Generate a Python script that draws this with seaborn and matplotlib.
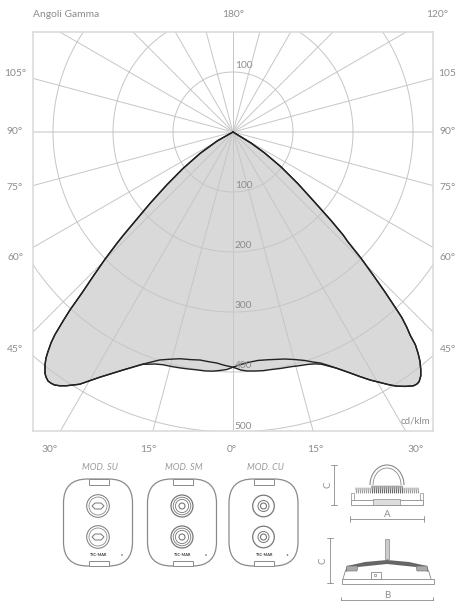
import numpy as np
import pandas as pd
import matplotlib
matplotlib.use('Agg')
import matplotlib.pyplot as plt
import seaborn as sns
from matplotlib.patches import FancyBboxPatch, Circle, Rectangle, Arc, Polygon

# gamma angle (degrees, negative = left of nadir) and intensity (cd/klm)
left_gamma = [-62, -60.5, -57.0, -53.9, -51.4, -49.3, -47.8, -46.7, -46.2, -45.2, -44.1, -43.2, -42.5, -42.0, -41.3,
              -40.8, -40.1, -39.6, -38.9, -37.9, -37.3, -36.6, -35.9, -35.2, -34.3, -33.3, -31.3, -28.5, -24.8, -21.2]
left_cd = [0, 30, 65, 103, 141, 182, 217, 252, 268, 300, 335, 367, 402, 422, 450,
           464, 479, 489, 499, 510, 514, 517, 517, 516, 512, 506, 492, 465, 437, 415]

right_gamma = [23.7, 25.6, 27.4, 28.9, 30.4, 31.8, 32.8, 34.1, 35.4, 36.1, 36.7, 37.6, 38.3, 39.2, 39.9, 40.6,
               41.1, 41.7, 42.3, 42.7, 43.5, 44.4, 45.4, 46.3, 46.9, 47.9, 49.4, 51.5, 54.0, 56.5, 58.5, 62]
right_cd = [430, 444, 459, 472, 484, 496, 504, 512, 519, 520, 519, 513, 505, 493, 481, 467,
            449, 435, 418, 401, 369, 334, 300, 265, 252, 221, 178, 138, 99, 63, 35, 0]

# the two planes split apart around the nadir
plane_a_gamma = [-20.4, -18.6, -16.7, -14.6, -12.7, -10.8, -8.7, -6.7, -4.8, -3.1, -1.5, 0,
                 1.7, 3.7, 6.2, 8.7, 11.0, 12.8, 15.2, 17.4, 19.2, 20.8, 22.5]
plane_a_cd = [413, 408, 405, 404, 403, 402, 401, 401, 400, 398, 396, 392,
              388, 385, 383, 384, 386, 388, 393, 399, 406, 412, 422]

plane_b_gamma = [-19.8, -17.8, -15.5, -13.1, -10.7, -8.2, -6.0, -4.0, -2.2, 0,
                 1.9, 3.4, 5.2, 7.2, 9.1, 11.5, 13.9, 16.0, 17.9, 19.5, 20.8]
plane_b_cd = [408, 399, 393, 388, 386, 384, 385, 386, 389, 392,
              397, 399, 400, 401, 401, 402, 403, 405, 407, 410, 414]

spoke_angles = list(range(0, 360, 15))
ring_values = [100, 200, 300, 400, 500]
lower_ring_labels = ['100', '200', '300', '400', '500']
left_labels = ['105°', '90°', '75°', '60°', '45°']
right_labels = ['105', '90°', '75°', '60°', '45°']
bottom_labels = ['30°', '15°', '0°', '15°', '30°']
module_names = ['MOD. SU', 'MOD. SM', 'MOD. CU']

GREY = '#8c8c8c'
GRID = '#c6c6c6'
FRAME = '#d9d9d9'
FILL = '#d9d9d9'
LINE = '#222222'
ICON = '#8a8a8a'

sns.set_theme(style='white')
plt.rcParams['font.family'] = ['Lato', 'DejaVu Sans']

W, H = 457, 601
fig = plt.figure(figsize=(W / 100, H / 100), dpi=100, facecolor='white')

# main diagram, 0.6 px per cd/klm with the pole at pixel (233, 132)
x0, x1, y0, y1 = 33, 433, 32, 431
ax = fig.add_axes([x0 / W, 1 - y1 / H, (x1 - x0) / W, (y1 - y0) / H])
ax.set_xlim((x0 - 233) / 0.6, (x1 - 233) / 0.6)
ax.set_ylim((132 - y1) / 0.6, (132 - y0) / 0.6)
ax.set_xticks([])
ax.set_yticks([])
for s in ax.spines.values():
    s.set_color(FRAME)
    s.set_linewidth(1.1)


def to_xy(gamma, cd):
    g = np.radians(gamma)
    return np.array(cd) * np.sin(g), -np.array(cd) * np.cos(g)


curve_a_g = left_gamma + plane_a_gamma + right_gamma
curve_a_c = left_cd + plane_a_cd + right_cd
curve_b_g = left_gamma + plane_b_gamma + right_gamma
curve_b_c = left_cd + plane_b_cd + right_cd

rows = []
for name, g, c in [('a', curve_a_g, curve_a_c), ('b', curve_b_g, curve_b_c)]:
    xs, ys = to_xy(g, c)
    rows.append(pd.DataFrame({'x': xs, 'y': ys, 'plane': name}))
    ax.fill(xs, ys, color=FILL, lw=0, zorder=1)
df = pd.concat(rows)

# grid on top of the fill
for a in spoke_angles:
    xs, ys = to_xy([a, a], [0, 900])
    lw = 1.1 if a in (90, 270) else 0.7
    c = FRAME if a in (90, 270) else GRID
    ax.plot(xs, ys, color=c, lw=lw, zorder=2)
t = np.linspace(0, 2 * np.pi, 400)
for r in ring_values:
    ax.plot(r * np.cos(t), r * np.sin(t), color=GRID, lw=0.7, zorder=2)

sns.lineplot(data=df, x='x', y='y', hue='plane', palette=[LINE, LINE], sort=False, estimator=None,
             legend=False, lw=1.0, zorder=3, ax=ax)
ax.set_xlabel('')
ax.set_ylabel('')

# radial labels
ax.text(3, 110, '100', color=GREY, fontsize=7.3, va='center', ha='left', zorder=4)
for r, lab in zip(ring_values, lower_ring_labels):
    ax.text(3, -r + 10, lab, color=GREY, fontsize=7.3, va='center', ha='left', zorder=4)
ax.text(328, -481, 'cd/klm', color=GREY, fontsize=7, va='center', ha='right', zorder=4)

# overlay in pixel coordinates for the outer labels and the drawings
ov = fig.add_axes([0, 0, 1, 1], facecolor='none')
ov.set_xlim(0, W)
ov.set_ylim(H, 0)
ov.axis('off')

ov.text(33, 14.5, 'Angoli Gamma', color=GREY, fontsize=7.4, va='center', ha='left')
ov.text(233.5, 14.5, '180°', color=GREY, fontsize=7.4, va='center', ha='center')
ov.text(437, 14.5, '120°', color=GREY, fontsize=7.4, va='center', ha='center')

side_y = [74, 132, 188, 257, 349]
for lab, y in zip(left_labels, side_y):
    ov.text(15, y, lab, color=GREY, fontsize=7.4, va='center', ha='center')
for lab, y in zip(right_labels, side_y):
    ov.text(456, y, lab, color=GREY, fontsize=7.4, va='center', ha='right')

bottom_x = [50, 148, 232, 315, 416]
for lab, x in zip(bottom_labels, bottom_x):
    ov.text(x, 449, lab, color=GREY, fontsize=7.4, va='center', ha='center')


def module(cx, name, rings, inner):
    ov.text(cx + 2, 468, name, color='#9a9a9a', fontsize=6.5, style='italic', va='center', ha='center')
    body = FancyBboxPatch((cx - 34.5 + 16, 479 + 16), 69 - 32, 87 - 32,
                          boxstyle='round,pad=16,rounding_size=24', fc='white', ec=ICON, lw=0.9)
    ov.add_patch(body)
    for ty in (479, 560.5):
        ov.add_patch(Rectangle((cx - 9.5, ty), 20, 5.5, fc='white', ec=ICON, lw=0.7))
    for cy in (506, 537):
        for rad, lw in rings:
            ov.add_patch(Circle((cx, cy), rad, fc='none', ec='#777777', lw=lw))
        inner(cx, cy)
    ov.text(cx + 1, 555, 'TEC-MAR', color='#333333', fontsize=2.8, weight='bold', va='center', ha='center')
    ov.add_patch(Circle((cx + 24, 555), 0.8, fc='#666666', ec='none'))


def hex_inner(cx, cy):
    ov.add_patch(Polygon([(cx - 6, cy), (cx - 3, cy - 3), (cx + 3, cy - 3), (cx + 6, cy), (cx + 3, cy + 3),
                          (cx - 3, cy + 3)], fc='none', ec='#777777', lw=0.7))


def ring_inner(cx, cy):
    ov.add_patch(Circle((cx, cy), 3, fc='none', ec='#777777', lw=0.8))


module(98, module_names[0], [(11.3, 0.7), (9, 0.5)], hex_inner)
module(182, module_names[1], [(11, 0.9), (8.8, 0.6), (6.6, 0.6)], ring_inner)
module(263.5, module_names[2], [(10.8, 0.9), (5.5, 0.7)], ring_inner)


def dim_v(x, ya, yb, label, lx):
    ov.plot([x, x], [ya, yb], color=ICON, lw=0.6)
    ov.plot([x - 3, x + 3], [ya, ya], color=ICON, lw=0.6)
    ov.plot([x - 3, x + 3], [yb, yb], color=ICON, lw=0.6)
    ov.text(lx, (ya + yb) / 2, label, color=GREY, fontsize=7, rotation=90, va='center', ha='center')


def dim_h(y, xa, xb, label):
    ov.plot([xa, xb], [y, y], color=ICON, lw=0.6)
    ov.plot([xa, xa], [y - 3, y + 3], color=ICON, lw=0.6)
    ov.plot([xb, xb], [y - 3, y + 3], color=ICON, lw=0.6)
    ov.text((xa + xb) / 2, y - 4.5, label, color=GREY, fontsize=7, va='center', ha='center')


# side view, top
dim_v(333.5, 465, 505, 'C', 328)
dim_h(519, 350, 424, 'A')
ov.add_patch(Arc((387, 485), 34, 40, theta1=180, theta2=360, ec=ICON, lw=0.8))
ov.add_patch(Arc((387, 485), 28, 34, theta1=180, theta2=360, ec=ICON, lw=0.6))
ov.add_patch(Rectangle((350.5, 500), 72.5, 5, fc='white', ec=ICON, lw=0.6))
ov.add_patch(Rectangle((373, 499), 27, 6, fc='#dddddd', ec=ICON, lw=0.5))
ov.add_patch(Rectangle((351, 493), 3, 7, fc='white', ec=ICON, lw=0.5))
ov.add_patch(Rectangle((420, 493), 3, 7, fc='white', ec=ICON, lw=0.5))
for fx in range(356, 419, 2):
    top = 486 if 370 < fx < 404 else 488
    ov.plot([fx, fx + 0.6], [top, 493], color='#666666' if 370 < fx < 404 else '#999999', lw=0.8)

# side view, bottom
dim_v(329.5, 538, 583, 'C', 323)
dim_h(599.5, 341, 433, 'B')
ov.add_patch(Rectangle((385, 538.5), 4, 20, fc='#cccccc', ec=ICON, lw=0.5))
ov.add_patch(Polygon([(345, 572), (347, 566), (365, 562), (387, 560), (409, 562), (427, 566), (429, 572),
                      (416, 567), (387, 564), (358, 567)], fc='#666666', ec='none'))
ov.add_patch(Polygon([(346, 571), (347, 566), (358, 566), (357, 571)], fc='#aaaaaa', ec='#666666', lw=0.4))
ov.add_patch(Polygon([(428, 571), (427, 566), (416, 566), (417, 571)], fc='#aaaaaa', ec='#666666', lw=0.4))
ov.plot([345, 343], [572, 579], color=ICON, lw=0.6)
ov.plot([429, 431], [572, 579], color=ICON, lw=0.6)
ov.add_patch(Rectangle((341.5, 579), 92, 5, fc='white', ec=ICON, lw=0.6))
ov.add_patch(Rectangle((370.5, 572), 10, 7, fc='white', ec=ICON, lw=0.6))
ov.add_patch(Circle((375.5, 575.5), 1.2, fc='none', ec=ICON, lw=0.5))

fig.savefig('out.png', dpi=100)
